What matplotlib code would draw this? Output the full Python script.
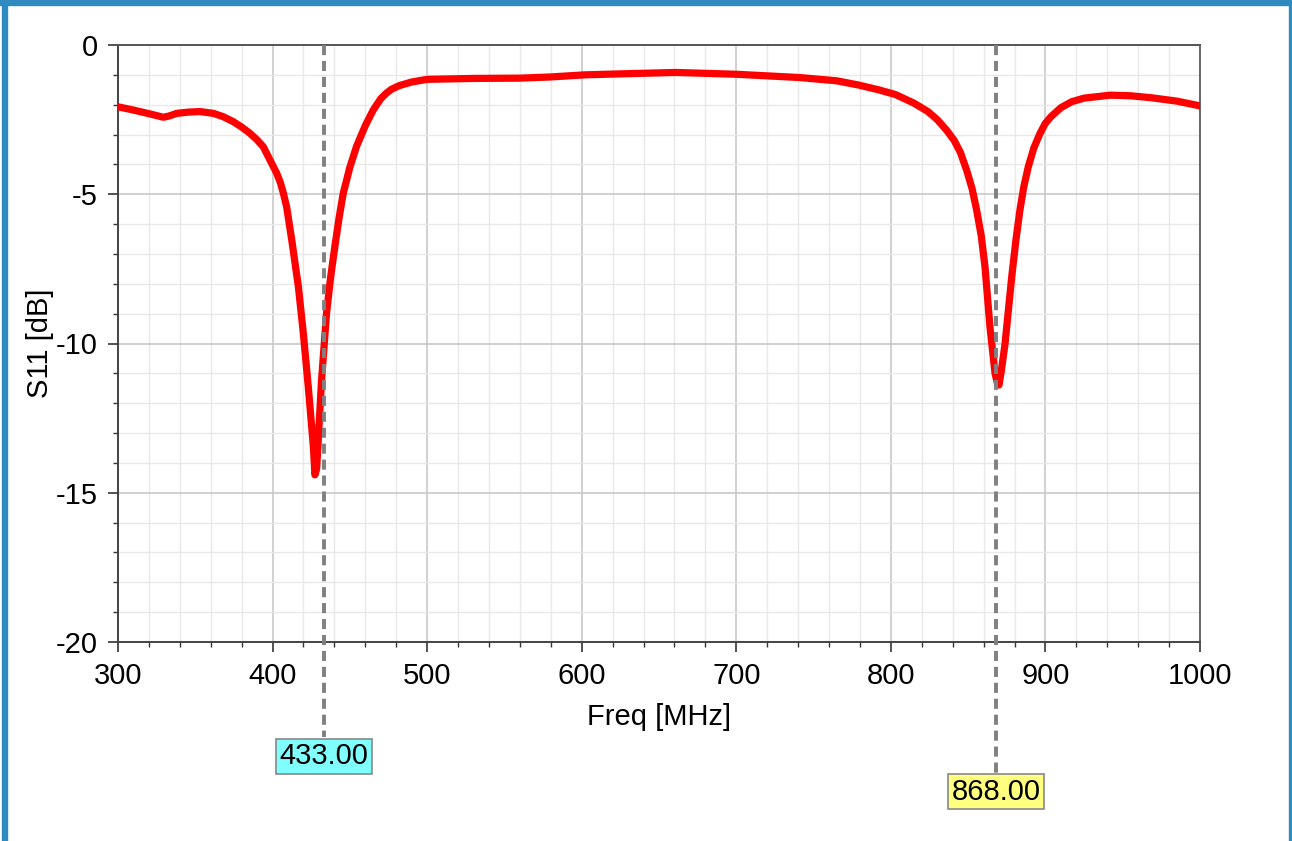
import numpy as np
import matplotlib.pyplot as plt
from matplotlib.patches import Rectangle
from matplotlib.ticker import MultipleLocator
import matplotlib.transforms as mtransforms

plt.rcParams['font.family'] = ['Liberation Sans', 'DejaVu Sans']
plt.rcParams['axes.unicode_minus'] = False

# S11 curve (MHz, dB)
freq = [300, 310, 320.7, 329.3, 333, 338, 345, 353, 361.7, 368, 374.6, 380,
        385.4, 390, 394, 398.3, 402.7, 405, 407, 409.1, 412.4, 416.7, 419.9,
        423.1, 426.4, 427.4, 428.5, 429.5, 431.7, 434.9, 437.5, 440.3, 443,
        445.7, 450, 454.3, 460, 465.1, 470, 473.5, 477, 482, 490, 500,
        530, 560, 580, 602, 630, 661, 700, 741, 765, 779, 792, 803, 815,
        824, 830, 836, 841, 845, 849, 852.5, 855.5, 858.5, 860.9, 864.1,
        867.4, 869, 870, 871.5, 873.9, 876, 878.2, 881, 883.5, 886, 888.9,
        892.5, 896.5, 900, 903.6, 910, 917, 925, 942, 955, 969, 985, 1000]
s11 = [-2.07, -2.18, -2.31, -2.42, -2.38, -2.29, -2.25, -2.23, -2.29, -2.4,
       -2.57, -2.75, -2.96, -3.18, -3.41, -3.85, -4.3, -4.6, -4.97, -5.42,
       -6.53, -8.1, -9.66, -11.45, -13.46, -14.4, -14.2, -13.3, -11.22, -8.99,
       -7.8, -6.75, -5.8, -4.97, -4.1, -3.4, -2.7, -2.18, -1.8, -1.62, -1.48,
       -1.36, -1.24, -1.15, -1.12, -1.11, -1.07, -1.0, -0.96, -0.92, -0.98,
       -1.09, -1.2, -1.34, -1.5, -1.66, -1.95, -2.23, -2.5, -2.85, -3.2, -3.6,
       -4.19, -4.8, -5.53, -6.4, -7.43, -9.44, -11.0, -11.35, -11.39, -10.9,
       -10.0, -8.9, -7.76, -6.5, -5.53, -4.75, -4.08, -3.45, -2.96, -2.62,
       -2.4, -2.1, -1.9, -1.78, -1.68, -1.7, -1.77, -1.88, -2.04]

marker_freqs = [433.0, 868.0]
marker_labels = ['433.00', '868.00']
marker_colors = ['#80ffff', '#ffff80']

W, H = 1292, 841
fig = plt.figure(figsize=(W / 100, H / 100), dpi=100)

# blue window frame
blue = '#2f8abf'
fig.patches.append(Rectangle((0, 1 - 5 / H), 1, 5 / H, transform=fig.transFigure,
                             color=blue, zorder=0))
fig.patches.append(Rectangle((2 / W, 0), 5 / W, 1, transform=fig.transFigure,
                             color=blue, zorder=0))
fig.patches.append(Rectangle((1 - 3 / W, 0), 3 / W, 1, transform=fig.transFigure,
                             color=blue, zorder=0))

ax = fig.add_axes([118 / W, 1 - 642 / H, (1200 - 118) / W, (642 - 45) / H])

ax.plot(freq, s11, color='#ff0000', lw=5.2, solid_capstyle='round',
        solid_joinstyle='round', zorder=3)

ax.set_xlim(300, 1000)
ax.set_ylim(-20, 0)
ax.xaxis.set_major_locator(MultipleLocator(100))
ax.xaxis.set_minor_locator(MultipleLocator(20))
ax.yaxis.set_major_locator(MultipleLocator(5))
ax.yaxis.set_minor_locator(MultipleLocator(1))

ax.grid(which='major', color='#c8c8c8', lw=1.2)
ax.grid(which='minor', color='#e8e8e8', lw=1.0)
ax.set_axisbelow(True)

for s in ax.spines.values():
    s.set_color('#444444')
    s.set_linewidth(1.4)
ax.spines['top'].set_color('#555555')
ax.spines['right'].set_color('#666666')

ax.tick_params(which='major', direction='out', length=7.5, width=1.2,
               color='#333333', labelsize=21, pad=7)
ax.tick_params(which='minor', direction='out', length=3.8, width=1.0,
               color='#333333')

ax.set_xlabel('Freq [MHz]', fontsize=21, labelpad=9)
ax.set_ylabel('S11 [dB]', fontsize=21, labelpad=1)

# marker lines with value boxes below the axes
trans = mtransforms.blended_transform_factory(ax.transData, ax.transAxes)
box_y = [-0.191, -0.251]
line_end = [-0.159, -0.219]
for f, lab, c, by, le in zip(marker_freqs, marker_labels, marker_colors, box_y, line_end):
    ax.plot([f, f], [1, le], transform=trans, color='#808080', lw=2.8,
            ls=(0, (2.6, 1.5)), clip_on=False, zorder=4)
    ax.text(f, by, lab, transform=trans, ha='center', va='center', fontsize=21,
            bbox=dict(boxstyle='square,pad=0.12', facecolor=c, edgecolor='#888888', lw=1.2),
            zorder=5)

fig.savefig('out.png', dpi=100)
